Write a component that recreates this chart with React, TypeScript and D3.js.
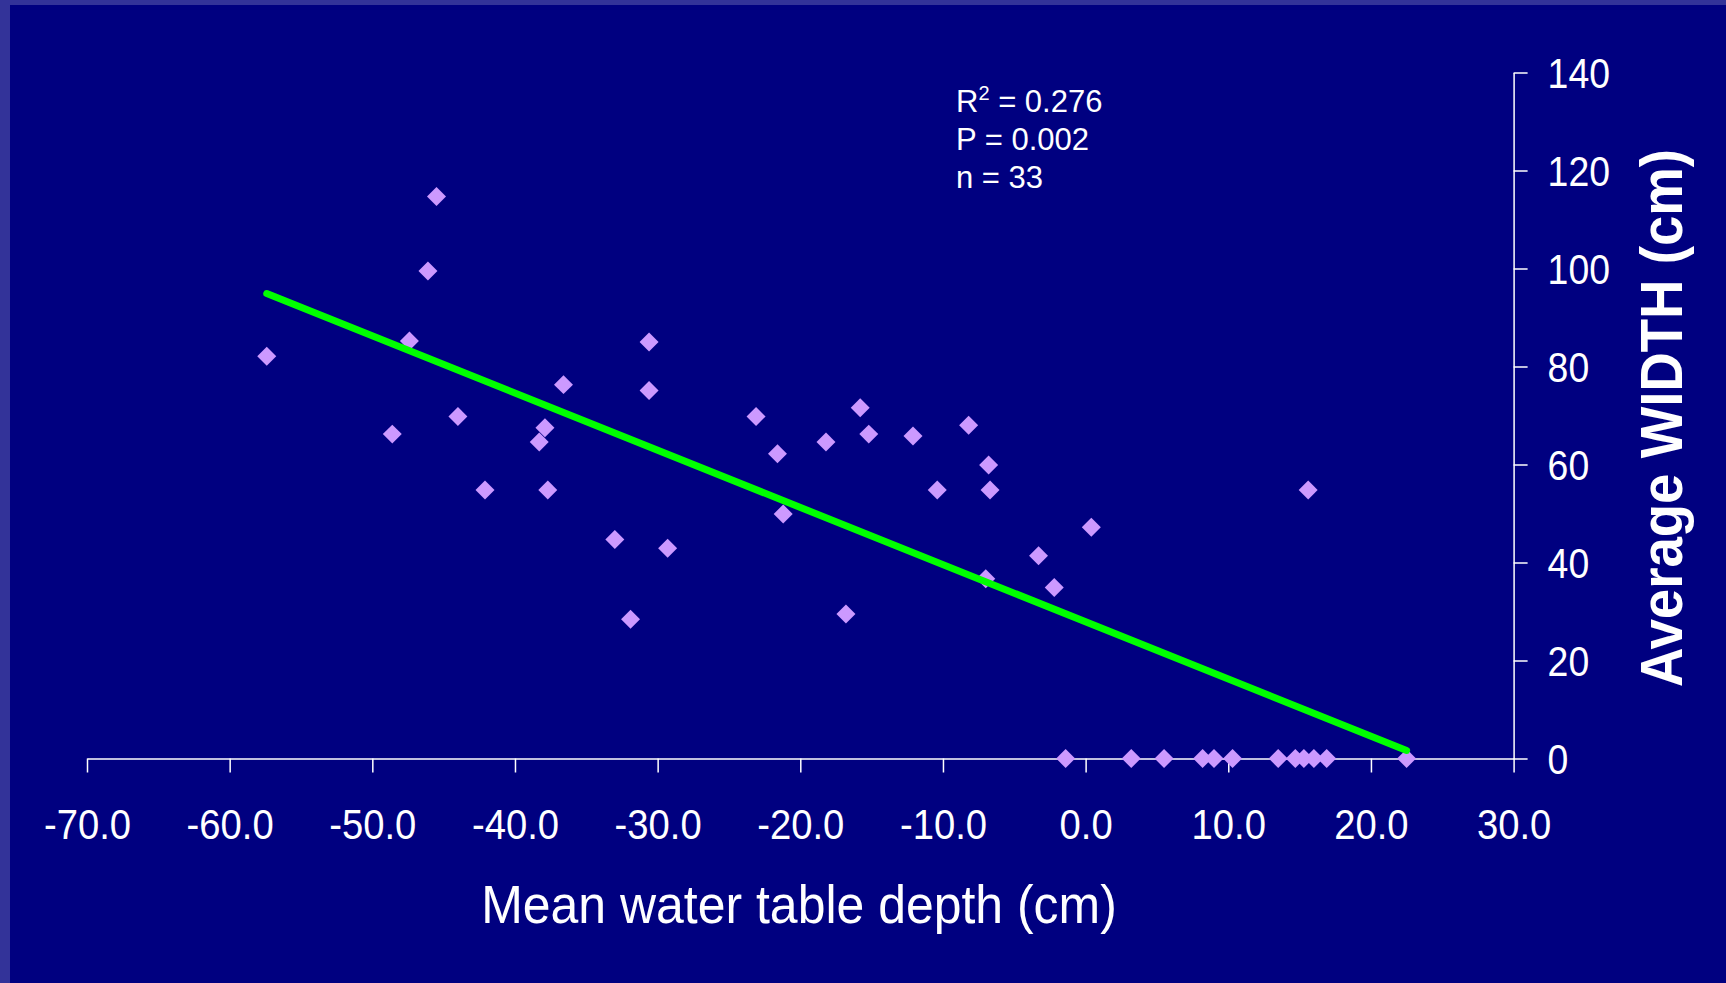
import * as d3 from "d3";
import { useEffect, useRef } from "react";

const W = 1726;
const H = 983;

// mean water table depth (cm) and average width (cm)
const depth = [
	-57.4, -45.5, -46.1, -47.4, -48.6, -44.0, -42.1, -36.6, -37.9, -38.3, -37.7,
	-33.0, -31.9, -30.6, -30.6, -29.3, -23.1, -21.6, -21.2, -18.2, -16.8, -15.8,
	-15.2, -12.1, -10.4, -8.2, -6.8, -6.7, -7.0, -3.3, -2.2, 0.4, 15.6,
	-1.4, 3.2, 5.5, 8.2, 9.0, 10.3, 13.5, 14.7, 15.3, 16.0, 16.9, 22.5
];
const avgWidth = [
	82.1, 114.7, 99.5, 85.2, 66.2, 69.8, 54.8, 76.3, 67.5, 64.6, 54.8,
	44.7, 28.4, 85.0, 75.1, 42.9, 69.8, 62.2, 49.9, 64.6, 29.5, 71.6,
	66.2, 65.8, 54.8, 68.0, 59.9, 54.8, 36.7, 41.4, 34.9, 47.2, 54.8,
	0, 0, 0, 0, 0, 0, 0, 0, 0, 0, 0, 0
];

// fitted line shown on the slide
const trendSlope = -1.167;
const trendIntercept = 27.9;

const xTicks = [-70, -60, -50, -40, -30, -20, -10, 0, 10, 20, 30];
const yTicks = [0, 20, 40, 60, 80, 100, 120, 140];

const statsLines = ["= 0.276", "P = 0.002", "n = 33"];

const font = "'Liberation Sans', Arial, sans-serif";

const App = () => {
	const ref = useRef(null);

	useEffect(() => {
		document.body.style.margin = "0";
		document.body.style.overflow = "hidden";

		const svg = d3.select(ref.current);
		svg.selectAll("*").remove();

		svg.append("rect").attr("width", W).attr("height", H).attr("fill", "#000080");
		svg.append("rect").attr("width", 10).attr("height", H).attr("fill", "#333399");
		svg.append("rect").attr("width", W).attr("height", 5).attr("fill", "#333399");

		const x = d3.scaleLinear().domain([-70, 30]).range([87, 1513.6]);
		const y = d3.scaleLinear().domain([0, 140]).range([758.5, 72.5]);

		// x axis
		const gx = svg
			.append("g")
			.attr("transform", `translate(0, ${y(0)})`)
			.call(d3.axisBottom(x).tickValues(xTicks).tickSize(14).tickSizeOuter(0).tickFormat(d => d.toFixed(1)));
		gx.selectAll("path, line").attr("stroke", "#fff").attr("stroke-width", 1.5);
		gx.selectAll("text")
			.attr("fill", "#fff")
			.attr("font-family", font)
			.attr("font-size", 42)
			.attr("y", 81)
			.attr("dy", 0)
			.attr("transform", "scale(0.91,1)");

		// y axis on the right
		const gy = svg
			.append("g")
			.attr("transform", `translate(${x(30)}, 0)`)
			.call(d3.axisRight(y).tickValues(yTicks).tickSize(14).tickSizeOuter(0).tickFormat(d => String(d)));
		gy.selectAll("path, line").attr("stroke", "#fff").attr("stroke-width", 1.5);
		gy.selectAll("text")
			.attr("fill", "#fff")
			.attr("font-family", font)
			.attr("font-size", 42)
			.attr("x", 34 / 0.89)
			.attr("dy", "0.36em")
			.attr("text-anchor", "start")
			.attr("transform", "scale(0.89,1)");

		// points
		const pts = depth.map((d, i) => ({ d, w: avgWidth[i] }));
		const diamond = d3.symbol().type(d3.symbolSquare).size(180);
		svg
			.append("g")
			.selectAll("path")
			.data(pts)
			.enter()
			.append("path")
			.attr("d", diamond)
			.attr("transform", p => `translate(${x(p.d)}, ${y(p.w)}) rotate(45)`)
			.attr("fill", "#CC99FF");

		// trend line
		const [x0, x1] = d3.extent(depth);
		const line = d3.line().x(p => x(p[0])).y(p => y(p[1]));
		svg
			.append("path")
			.attr("d", line([[x0, trendIntercept + trendSlope * x0], [x1, trendIntercept + trendSlope * x1]]))
			.attr("stroke", "#00FF00")
			.attr("stroke-width", 7)
			.attr("stroke-linecap", "round")
			.attr("fill", "none");

		// stats text
		const stats = svg.append("g").attr("font-family", font).attr("font-size", 31).attr("fill", "#fff");
		const r2 = stats.append("text").attr("x", 956).attr("y", 112);
		r2.append("tspan").text("R");
		r2.append("tspan").attr("font-size", 20).attr("dy", -12).text("2");
		r2.append("tspan").attr("dy", 12).text(" " + statsLines[0]);
		stats.append("text").attr("x", 956).attr("y", 150).text(statsLines[1]);
		stats.append("text").attr("x", 956).attr("y", 188).text(statsLines[2]);

		// axis titles
		svg
			.append("text")
			.attr("transform", "translate(799, 923) scale(0.925,1)")
			.attr("text-anchor", "middle")
			.attr("font-family", font)
			.attr("font-size", 54)
			.attr("fill", "#fff")
			.text("Mean water table depth (cm)");

		svg
			.append("text")
			.attr("transform", "translate(1682, 418) rotate(-90) scale(0.91,1)")
			.attr("text-anchor", "middle")
			.attr("font-family", font)
			.attr("font-size", 60)
			.attr("font-weight", "bold")
			.attr("fill", "#fff")
			.text("Average WIDTH (cm)");
	}, []);

	return <svg ref={ref} width={W} height={H} style={{ display: "block" }}></svg>;
};

export default App;
